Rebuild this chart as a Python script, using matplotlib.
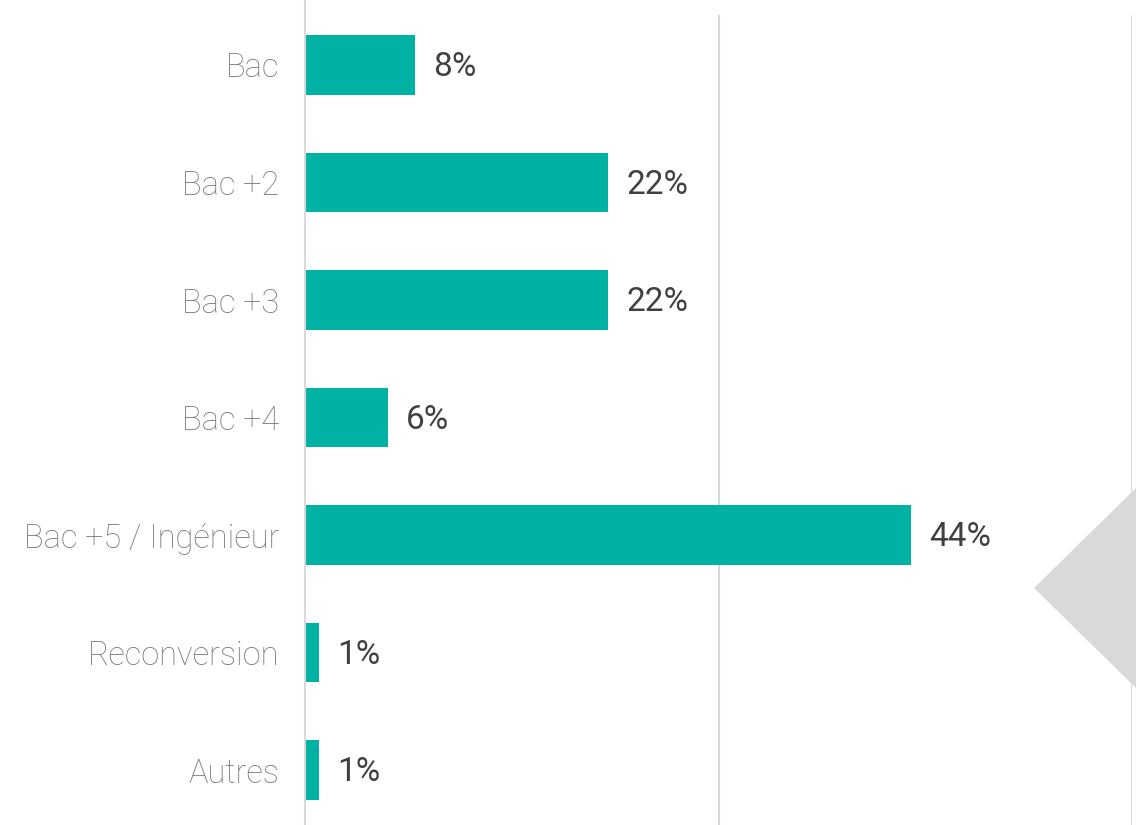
import matplotlib.pyplot as plt
from matplotlib.patches import Polygon

# Data
categories = ['Bac', 'Bac +2', 'Bac +3', 'Bac +4', 'Bac +5 / Ingénieur', 'Reconversion', 'Autres']
values = [8, 22, 22, 6, 44, 1, 1]
labels = ['8%', '22%', '22%', '6%', '44%', '1%', '1%']

W, H = 1136, 825
fig = plt.figure(figsize=(W / 100, H / 100), dpi=100)
fig.patch.set_facecolor('white')

# axes placed in pixel terms: x 305..1132, y 15..825
ax = fig.add_axes([305 / W, 0, (1132 - 305) / W, (825 - 15) / H])
pos = list(range(len(categories)))
ax.barh(pos, values, height=0.51, color='#00B2A4', zorder=2)

ax.set_xlim(0, 60)
ax.set_ylim(6.468, -0.4255)
ax.set_xticks([0, 30, 60])
ax.xaxis.grid(True, color='#D9D9D9', linewidth=1.5, zorder=0)
ax.tick_params(axis='x', bottom=False, labelbottom=False)
ax.tick_params(axis='y', left=False, pad=15)
ax.set_yticks(pos)
ax.set_yticklabels(categories, fontsize=23.5, color='#7A7A7A',
                   family='Roboto', fontweight='light')
for s in ['top', 'right', 'bottom', 'left']:
    ax.spines[s].set_visible(False)

for y, v, t in zip(pos, values, labels):
    ax.text(v + 1.3, y + 0.02, t, va='center', ha='left', fontsize=24,
            color='#404040', family='Roboto')

# left axis line running to the top of the figure
fig.add_artist(plt.Line2D([305 / W, 305 / W], [0, 1], color='#D9D9D9', linewidth=1.5))

# grey pointer shape on the right
tri = Polygon([[1136 / W, 1 - 488 / H], [1034 / W, 1 - 588 / H], [1136 / W, 1 - 688 / H]],
              closed=True, transform=fig.transFigure, facecolor='#D9D9D9',
              edgecolor='none', zorder=1)
fig.add_artist(tri)

# subtitle clipped at the very top, as in the source
fig.text(611 / W, 1 + 12 / H, '(nb réponses = 80)', ha='center', va='center',
         fontsize=16, color='#7F7F7F', family='Roboto', fontweight='light')

fig.savefig('out.png', dpi=100, facecolor='white')
